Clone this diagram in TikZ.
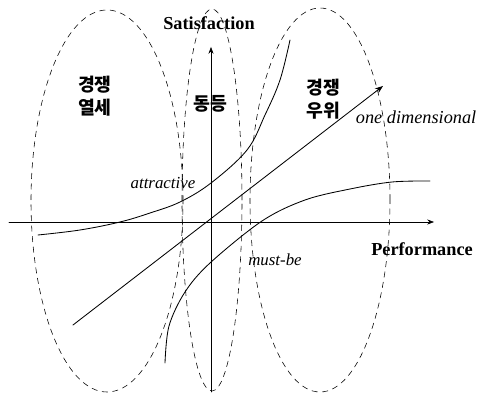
\documentclass[tikz,border=0pt]{standalone}
\usepackage{fontspec}
\setmainfont{Liberation Serif}
\newfontfamily\kofont{Noto Sans CJK KR}
\usetikzlibrary{arrows.meta}

\begin{document}
\begin{tikzpicture}[line cap=round, line join=round, >=Stealth,
  zone/.style={dash pattern=on 4pt off 3.5pt, thin},
  curve/.style={semithick},
  kolbl/.style={font=\kofont\bfseries\fontsize{13}{16}\selectfont, align=center},
  curvelbl/.style={font=\itshape\fontsize{12}{14}\selectfont}]

  \useasboundingbox (-5.275, -4.3) rectangle (6.825, 5.55);

  % ── Zones ────────────────────────────────────────────────────────────────────

  \draw[zone] (-2.6, 0.525) ellipse (1.9 and 4.775);
  \draw[zone] (0.025, 0.55) ellipse (0.75 and 4.775);
  \draw[zone] (2.725, 0.55) ellipse (1.75 and 4.8);

  % ── Axes ─────────────────────────────────────────────────────────────────────

  \coordinate (O)  at (0, 0);
  \coordinate (xl) at (-5.05, 0);
  \coordinate (xr) at (5.575, 0);
  \coordinate (yb) at (0, -4.25);
  \coordinate (yt) at (0, 4.375);

  \draw[->, thin] (xl) -- (xr);
  \draw[->, thin] (yb) -- (yt);

  \node[font=\bfseries\fontsize{13}{15}\selectfont] (sat)  at (-0.05, 4.975) {Satisfaction};
  \node[font=\bfseries\fontsize{13}{15}\selectfont] (perf) at (5.275, -0.675) {Performance};

  % ── Curves ───────────────────────────────────────────────────────────────────

  % attractive
  \draw[curve] plot[smooth, tension=0.6] coordinates {
    (-4.325,-0.325) (-3.275,-0.2) (-2.275,0) (-1.525,0.225) (-0.775,0.5)
    (0,0.975) (0.9,1.8) (1.35,2.675) (1.725,3.55) (1.975,4.55)};

  % one dimensional
  \coordinate (ods) at (-3.45, -2.575);
  \coordinate (ode) at (4.3, 3.4);
  \draw[->, curve] (ods) -- (ode);

  % must-be
  \draw[curve] plot[smooth, tension=0.55] coordinates {
    (-1.15,-3.525) (-1.05,-2.6) (-0.65,-1.75) (-0.025,-1.025) (1.275,0.025)
    (2.35,0.55) (3.475,0.825) (4.525,1.0) (5.475,1.025)};

  % ── Labels ───────────────────────────────────────────────────────────────────

  \node[kolbl] (inferior) at (-2.9, 3.15)   {경쟁\\열세};
  \node[kolbl] (parity)   at (-0.025, 2.95) {동등};
  \node[kolbl] (superior) at (2.8, 3.075)   {경쟁\\우위};

  \node[curvelbl] (attr) at (-1.2, 0.975) {attractive};
  \node[curvelbl, anchor=west, font=\itshape\fontsize{13}{15}\selectfont] (onedim) at (3.5, 2.625) {one dimensional};
  \node[curvelbl] (must) at (1.6, -0.95) {must-be};

\end{tikzpicture}
\end{document}
